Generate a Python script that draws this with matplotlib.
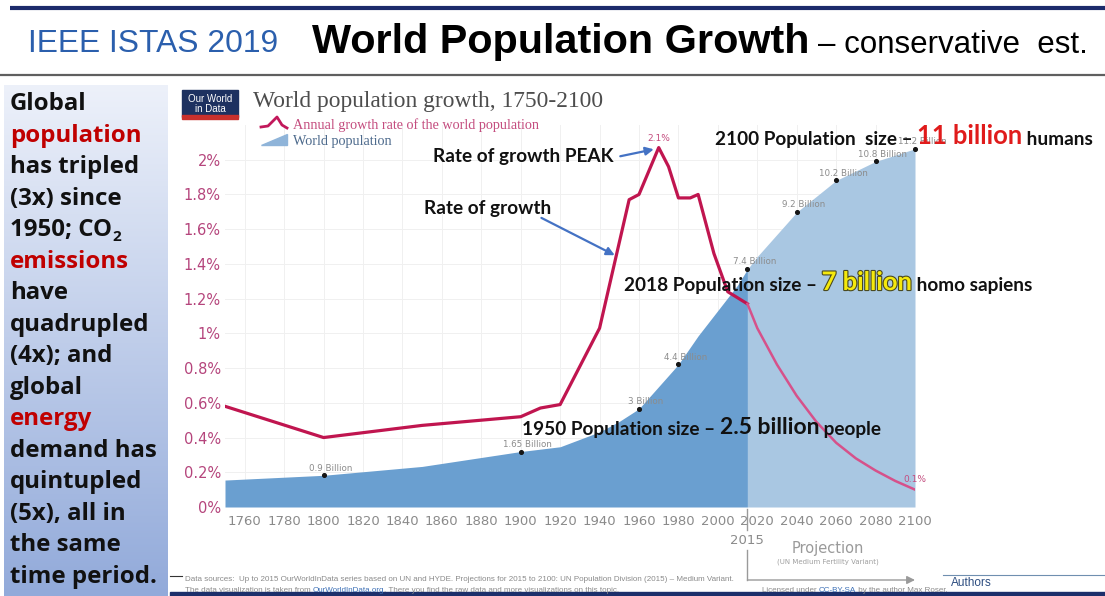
import matplotlib.pyplot as plt
import matplotlib.patheffects as pe
import numpy as np
from matplotlib.patches import Rectangle, Polygon

W, H = 1105, 596

# annual growth rate of the world population (%)
rate_years = [1750, 1800, 1850, 1900, 1910, 1920, 1940, 1955, 1960, 1970,
              1975, 1980, 1986, 1990, 1998, 2005, 2015]
rate_vals = [0.58, 0.40, 0.47, 0.52, 0.57, 0.59, 1.03, 1.77, 1.80, 2.07,
             1.96, 1.78, 1.78, 1.80, 1.46, 1.24, 1.17]
proj_rate_years = [2015, 2020, 2030, 2040, 2050, 2060, 2070, 2080, 2090, 2100]
proj_rate_vals = [1.17, 1.03, 0.82, 0.64, 0.49, 0.37, 0.28, 0.21, 0.15, 0.10]

# world population (billions)
pop_years = [1750, 1800, 1850, 1900, 1920, 1940, 1950, 1960, 1970, 1980, 1990,
             2000, 2010, 2015, 2020, 2030, 2040, 2050, 2060, 2070, 2080, 2090, 2100]
pop_vals = [0.75, 0.9, 1.18, 1.65, 1.8, 2.27, 2.6, 3.0, 3.7, 4.4, 5.3,
            6.1, 6.9, 7.4, 7.8, 8.5, 9.2, 9.7, 10.2, 10.5, 10.8, 11.0, 11.2]

pop_label_years = [1800, 1900, 1960, 1980, 2015, 2040, 2060, 2080, 2100]
pop_label_vals = [0.9, 1.65, 3.0, 4.4, 7.4, 9.2, 10.2, 10.8, 11.2]
pop_labels = ["0.9 Billion", "1.65 Billion", "3 Billion", "4.4 Billion", "7.4 Billion",
              "9.2 Billion", "10.2 Billion", "10.8 Billion", "11.2 Billion"]

rate_ticks = [0, 0.2, 0.4, 0.6, 0.8, 1.0, 1.2, 1.4, 1.6, 1.8, 2.0]
rate_tick_labels = ["0%", "0.2%", "0.4%", "0.6%", "0.8%", "1%", "1.2%", "1.4%",
                    "1.6%", "1.8%", "2%"]
year_ticks = [1760, 1780, 1800, 1820, 1840, 1860, 1880, 1900, 1920, 1940, 1960,
              1980, 2000, 2020, 2040, 2060, 2080, 2100]
grid_years = list(range(1760, 2101, 20))

RED = "#c00000"
side_lines = [
    ("Global", "#111111"), ("population", RED), ("has tripled", "#111111"),
    ("(3x) since", "#111111"), ("1950; CO", "#111111"), ("emissions", RED),
    ("have", "#111111"), ("quadrupled", "#111111"), ("(4x); and", "#111111"),
    ("global", "#111111"), ("energy", RED), ("demand has", "#111111"),
    ("quintupled", "#111111"), ("(5x), all in", "#111111"), ("the same", "#111111"),
    ("time period.", "#111111"),
]

fig = plt.figure(figsize=(W / 100, H / 100), dpi=100)

# left text panel with a vertical gradient
side = fig.add_axes([4 / W, 0, 164 / W, 1 - 85 / H])
t = np.linspace(0, 1, 200)[:, None, None]
top = np.array([237, 241, 250]) / 255
bot = np.array([146, 170, 218]) / 255
side.imshow(top + (bot - top) * t, aspect="auto", extent=(0, 1, 0, 1))
side.set_axis_off()

# chart axes: population fill below, growth rate above
rect = [225 / W, 1 - 507 / H, 690 / W, 382 / H]
ax_pop = fig.add_axes(rect)
ax = fig.add_axes(rect)
ax.patch.set_visible(False)

for r in rate_ticks[1:]:
    ax_pop.plot([0, 1], [r / 2.2, r / 2.2], transform=ax_pop.transAxes,
                color="#f0f0f0", lw=0.7, zorder=0)
for yr in grid_years:
    ax_pop.axvline(yr, color="#f0f0f0", lw=0.7, zorder=0)

yrs = np.array(pop_years)
pv = np.array(pop_vals)
hist = yrs <= 2015
proj = yrs >= 2015
ax_pop.fill_between(yrs[hist], pv[hist], -0.1, color="#6a9fd0", lw=0, zorder=1)
ax_pop.fill_between(yrs[proj], pv[proj], -0.1, color="#a9c7e2", lw=0, zorder=1)
ax_pop.scatter(pop_label_years, pop_label_vals, s=7, color="#151515", zorder=3, clip_on=False)
for yr, v, lbl in zip(pop_label_years, pop_label_vals, pop_labels):
    ax_pop.annotate(lbl, (yr, v), xytext=(5, 2), textcoords="offset points",
                    ha="center", va="bottom", fontsize=6.3, color="#8c8c8c",
                    annotation_clip=False, zorder=4)
ax_pop.set_xlim(1750, 2100)
ax_pop.set_ylim(-0.1, 11.95)
ax_pop.set_xticks([])
ax_pop.set_yticks([])
for s in ax_pop.spines.values():
    s.set_visible(False)

ax.plot(rate_years, rate_vals, color="#c0154f", lw=2.3)
ax.plot(proj_rate_years, proj_rate_vals, color="#d6518a", lw=1.8)
ax.annotate("2.1%", (1970, 2.07), xytext=(0, 3), textcoords="offset points",
            ha="center", va="bottom", fontsize=6.5, color="#c44d7f")
ax.annotate("0.1%", (2100, 0.10), xytext=(0, 4), textcoords="offset points",
            ha="center", va="bottom", fontsize=6.5, color="#c44d7f", annotation_clip=False)
ax.set_xlim(1750, 2100)
ax.set_ylim(0, 2.2)
ax.set_yticks(rate_ticks, rate_tick_labels)
ax.set_xticks(year_ticks)
ax.tick_params(length=0)
ax.tick_params(axis="y", pad=3, labelcolor="#b5457c", labelsize=10.5)
ax.tick_params(axis="x", pad=6, labelcolor="#8a8a8a", labelsize=9.5)
for s in ax.spines.values():
    s.set_visible(False)

# arrows to the rate line
arrow = dict(arrowstyle="-|>", color="#4472c4", lw=1.6, mutation_scale=12, shrinkA=0, shrinkB=0)
ax.annotate("", xy=(1967.5, 2.06), xytext=(1950.5, 2.02), arrowprops=arrow)
ax.annotate("", xy=(1947.7, 1.45), xytext=(1910.5, 1.665), arrowprops=arrow)

# projection bracket under the axis
xt = ax.get_xaxis_transform()
fy = lambda y: (507 - y) / 382
ax.plot([2015, 2015], [fy(509), fy(530)], transform=xt, color="#9a9a9a", lw=1, clip_on=False)
ax.plot([2015, 2015], [fy(550), fy(580)], transform=xt, color="#9a9a9a", lw=1, clip_on=False)
ax.text(2015, fy(540), "2015", transform=xt, ha="center", va="center", fontsize=9.5, color="#8a8a8a")
ax.annotate("", xy=(2100, fy(580)), xytext=(2015, fy(580)), xycoords=xt,
            arrowprops=dict(arrowstyle="-|>", color="#9a9a9a", lw=1, mutation_scale=12,
                            shrinkA=0, shrinkB=0))
ax.text(2056, fy(549), "Projection", transform=xt, ha="center", va="center", fontsize=10.5, color="#9a9a9a")
ax.text(2056, fy(562), "(UN Medium Fertility Variant)", transform=xt, ha="center", va="center",
        fontsize=5, color="#a0a0a0")

# overlay in pixel coordinates for slide text
ov = fig.add_axes([0, 0, 1, 1], zorder=5)
ov.set_xlim(0, W)
ov.set_ylim(H, 0)
ov.set_axis_off()

ov.plot([10, W], [8, 8], color="#1c2b6b", lw=3, solid_capstyle="butt")
ov.plot([0, W], [75, 75], color="#5f5f5f", lw=1.6, solid_capstyle="butt")
ov.text(28, 52, "IEEE ISTAS 2019", family="Liberation Sans", fontsize=22.9, color="#2b5fad", va="baseline")
ov.text(312, 53, "World Population Growth", family="Liberation Sans", fontsize=29.8,
        fontweight="bold", color="#000000", va="baseline")
ov.text(818, 53, "– conservative  est.", family="Liberation Sans", fontsize=22.5, color="#000000", va="baseline")

side_font = dict(family="Open Sans", fontweight="bold", fontsize=17.3)
for i, (s, c) in enumerate(side_lines):
    txt = ov.text(10, 110 + i * 31.53, s, color=c, va="baseline", **side_font)
    if s.endswith("CO"):
        ov.annotate("2", xy=(1, 0), xycoords=txt, xytext=(0.5, -1), textcoords="offset points",
                    va="bottom", family="Open Sans", fontweight="bold", fontsize=11, color=c)


def chain(x, y, parts):
    prev = None
    for s, kw in parts:
        if prev is None:
            prev = ov.text(x, y, s, va="bottom", **kw)
        else:
            prev = ov.annotate(s, xy=(1, 0), xycoords=prev, va="bottom", **kw)
    return prev


note = dict(family="Lato", fontweight="bold", fontsize=13.7, color="#111111")
chain(433, 165, [("Rate of growth PEAK", note)])
chain(424, 217, [("Rate of growth", note)])
chain(715, 148, [("2100 Population  size – ", note),
                 ("11 billion", dict(note, fontsize=18.4, color="#e01b1b")),
                 (" humans", note)])
chain(624, 294, [("2018 Population size – ", note),
                 ("7 billion", dict(note, fontsize=18.4, color="#f5e90c",
                                    path_effects=[pe.withStroke(linewidth=1.6, foreground="#4a4a20")])),
                 (" homo sapiens", note)])
chain(522, 438, [("1950 Population size – ", note),
                 ("2.5 billion", dict(note, fontsize=16.5)),
                 (" people", note)])

# Our World in Data header
ov.add_patch(Rectangle((182, 90), 56, 27, color="#1d3160"))
ov.add_patch(Rectangle((182, 115), 56, 4, color="#c9302c"))
ov.text(210, 99, "Our World", ha="center", va="center", fontsize=7, color="white", family="Liberation Sans")
ov.text(210, 109, "in Data", ha="center", va="center", fontsize=7, color="white", family="Liberation Sans")
ov.text(253, 102, "World population growth, 1750-2100", family="Liberation Serif", fontsize=16.9,
        color="#4d4d4d", va="center")
ov.plot([261, 268, 272, 277, 282, 287], [127, 126, 122, 117, 125, 128], color="#c2185b", lw=2)
ov.add_patch(Polygon([(261, 145), (287, 145), (287, 134)], closed=True, color="#8fb4d9"))
ov.text(293, 125, "Annual growth rate of the world population", family="Liberation Serif",
        fontsize=10.2, color="#c44d7f", va="center")
ov.text(293, 142, "World population", family="Liberation Serif", fontsize=10.2, color="#4d6a8c", va="center")

# footer
foot = dict(family="Liberation Sans", fontsize=5.8, color="#8a8a8a")
ov.plot([170, 182], [576, 576], color="#333333", lw=0.8)
chain(185, 583, [("Data sources:  Up to 2015 OurWorldInData series based on UN and HYDE. "
                  "Projections for 2015 to 2100: UN Population Division (2015) – Medium Variant.", foot)])
chain(185, 594, [("The data visualization is taken from ", foot),
                 ("OurWorldInData.org", dict(foot, color="#3b6fb6")),
                 (". There you find the raw data and more visualizations on this topic.", foot)])
chain(762, 594, [("Licensed under ", foot), ("CC-BY-SA", dict(foot, color="#3b6fb6")),
                 (" by the author Max Roser.", foot)])
ov.plot([943, W], [575, 575], color="#6f8fb0", lw=0.8)
ov.text(951, 583, "Authors", family="Liberation Sans", fontsize=8.5, color="#2d4d80", va="center")
ov.add_patch(Rectangle((170, 592), W - 170, 4, color="#1c2f6b"))

fig.savefig("out.png", dpi=100)
